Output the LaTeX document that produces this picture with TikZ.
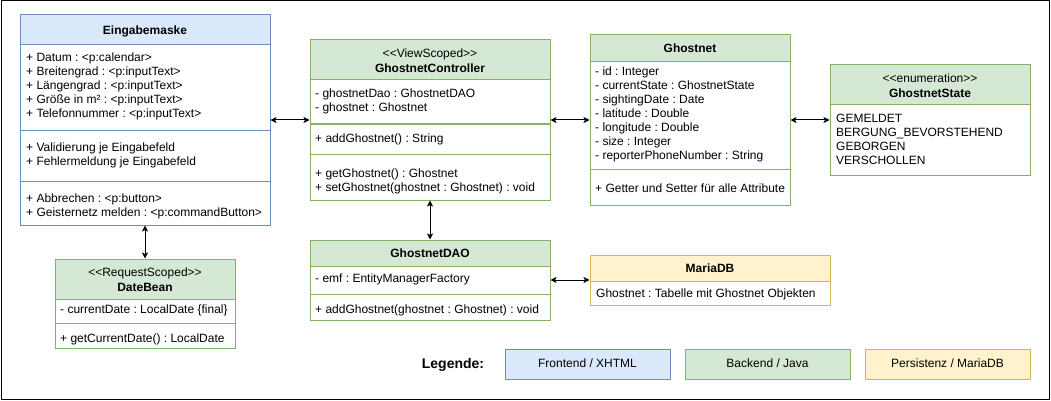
\documentclass[tikz,border=0pt]{standalone}
\usepackage{fontspec}
\setmainfont{Liberation Sans}[Ligatures=TeXOff]
\usetikzlibrary{arrows.meta}
\definecolor{blueF}{HTML}{DAE8FC}
\definecolor{blueD}{HTML}{6C8EBF}
\definecolor{greenF}{HTML}{D5E8D4}
\definecolor{greenD}{HTML}{82B366}
\definecolor{yelF}{HTML}{FFF2CC}
\definecolor{yelD}{HTML}{D6B656}
\frenchspacing
\begin{document}
\begin{tikzpicture}[x=1pt,y=-1pt,
  font=\fontsize{12}{14}\selectfont,
  conn/.style={{Stealth[length=6pt,width=6pt,inset=1.5pt]}-{Stealth[length=6pt,width=6pt,inset=1.5pt]}, line width=1pt, black},
  txt/.style={inner sep=0pt, anchor=base west},
  ttl/.style={inner sep=0pt, anchor=base, font=\fontsize{12}{14}\selectfont\bfseries},
  ster/.style={inner sep=0pt, anchor=base},
  box/.style={inner sep=0pt, line width=1pt},
  sepb/.style={blueD, line width=1pt},
  sepg/.style={greenD, line width=1pt},
  sepy/.style={yelD, line width=1pt},
  legbox/.style={inner sep=0pt, line width=1pt, minimum width=165pt, minimum height=30pt, text height=8.5pt, text depth=2.5pt},
]
\useasboundingbox (0,0) rectangle (1051,401);
\fill[white] (0,0) rectangle (1051,401);
\draw[line width=1pt] (1,1) rectangle (1049,399);

% ---------- Eingabemaske ----------
\fill[blueF] (20,15) rectangle (270,45);
\node[box, draw=blueD, minimum width=250pt, minimum height=210pt] (eing) at (145,120) {};
\draw[sepb] (20,45) -- (270,45);
\draw[sepb] (20,130) -- (270,130);
\draw[sepb] (20,181) -- (270,181);
\node[ttl] (eingT) at (145,34.5) {Eingabemaske};
\node[txt] (e1) at (26,61.5) {+ Datum : <p:calendar>};
\node[txt] (e2) at (26,75.5) {+ Breitengrad : <p:inputText>};
\node[txt] (e3) at (26,89.5) {+ Längengrad : <p:inputText>};
\node[txt] (e4) at (26,103.5) {+ Größe in m² : <p:inputText>};
\node[txt] (e5) at (26,117.5) {+ Telefonnummer : <p:inputText>};
\node[txt] (e6) at (26,151.5) {+ Validierung je Eingabefeld};
\node[txt] (e7) at (26,165.5) {+ Fehlermeldung je Eingabefeld};
\node[txt] (e8) at (26,202.5) {+ Abbrechen : <p:button>};
\node[txt] (e9) at (26,216.5) {+ Geisternetz melden : <p:commandButton>};

% ---------- GhostnetController ----------
\fill[greenF] (310,40) rectangle (550,80);
\node[box, draw=greenD, minimum width=240pt, minimum height=160pt] (ctrl) at (430,120) {};
\draw[sepg] (310,80) -- (550,80);
\draw[sepg] (310,124) -- (550,124);
\draw[sepg] (310,154) -- (550,154);
\node[ster] (ctrlS) at (430,57.5) {<<ViewScoped>>};
\node[ttl] (ctrlT) at (430,72.5) {GhostnetController};
\node[txt] (c1) at (315,97.5) {- ghostnetDao : GhostnetDAO};
\node[txt] (c2) at (315,111.5) {- ghostnet : Ghostnet};
\node[txt] (c3) at (315,142.5) {+ addGhostnet() : String};
\node[txt] (c4) at (315,177.5) {+ getGhostnet() : Ghostnet};
\node[txt] (c5) at (315,191.5) {+ setGhostnet(ghostnet : Ghostnet) : void};

% ---------- Ghostnet ----------
\fill[greenF] (590,35) rectangle (790,62);
\node[box, draw=greenD, minimum width=200pt, minimum height=170pt] (gn) at (690,120) {};
\draw[sepg] (590,62) -- (790,62);
\draw[sepg] (590,169) -- (790,169);
\node[ttl] (gnT) at (690,52.5) {Ghostnet};
\node[txt] (g1) at (595,75.5) {- id : Integer};
\node[txt] (g2) at (595,89.5) {- currentState : GhostnetState};
\node[txt] (g3) at (595,103.5) {- sightingDate : Date};
\node[txt] (g4) at (595,117.5) {- latitude : Double};
\node[txt] (g5) at (595,131.5) {- longitude : Double};
\node[txt] (g6) at (595,145.5) {- size : Integer};
\node[txt] (g7) at (595,159.5) {- reporterPhoneNumber : String};
\node[txt] (g8) at (595,192.5) {+ Getter und Setter für alle Attribute};

% ---------- GhostnetState ----------
\fill[greenF] (830,65) rectangle (1030,105);
\node[box, draw=greenD, minimum width=200pt, minimum height=110pt] (gs) at (930,120) {};
\draw[sepg] (830,105) -- (1030,105);
\node[ster] (gsS) at (930,82.5) {<<enumeration>>};
\node[ttl] (gsT) at (930,97.5) {GhostnetState};
\node[txt] (s1) at (836,122.5) {GEMELDET};
\node[txt] (s2) at (836,136.5) {BERGUNG\_BEVORSTEHEND};
\node[txt] (s3) at (836,150.5) {GEBORGEN};
\node[txt] (s4) at (836,164.5) {VERSCHOLLEN};

% ---------- DateBean ----------
\fill[greenF] (55,259) rectangle (235,299);
\node[box, draw=greenD, minimum width=180pt, minimum height=89pt] (db) at (145,303.5) {};
\draw[sepg] (55,299) -- (235,299);
\draw[sepg] (55,323) -- (235,323);
\node[ster] (dbS) at (145,276.5) {<<RequestScoped>>};
\node[ttl] (dbT) at (145,291.5) {DateBean};
\node[txt] (d1) at (60,313.5) {- currentDate : LocalDate \{final\}};
\node[txt] (d2) at (60,342.5) {+ getCurrentDate() : LocalDate};

% ---------- GhostnetDAO ----------
\fill[greenF] (310,240) rectangle (550,266);
\node[box, draw=greenD, minimum width=240pt, minimum height=80pt] (dao) at (430,280) {};
\draw[sepg] (310,266) -- (550,266);
\draw[sepg] (310,294) -- (550,294);
\node[ttl] (daoT) at (430,257.5) {GhostnetDAO};
\node[txt] (a1) at (315,282.5) {- emf : EntityManagerFactory};
\node[txt] (a2) at (315,313.5) {+ addGhostnet(ghostnet : Ghostnet) : void};

% ---------- MariaDB ----------
\fill[yelF] (590,255) rectangle (830,281);
\node[box, draw=yelD, minimum width=240pt, minimum height=50pt] (mdb) at (710,280) {};
\draw[sepy] (590,281) -- (830,281);
\node[ttl] (mdbT) at (710,272.5) {MariaDB};
\node[txt] (m1) at (596,297.5) {Ghostnet : Tabelle mit Ghostnet Objekten};

% ---------- connectors ----------
\draw[conn] (eing.east) -- (ctrl.west);
\draw[conn] (ctrl.east) -- (gn.west);
\draw[conn] (gn.east) -- (gs.west);
\draw[conn] (ctrl.south) -- (dao.north);
\draw[conn] (eing.south) -- (db.north);
\draw[conn] (dao.east) -- (mdb.west);

% ---------- legend ----------
\node[inner sep=0pt, anchor=base, font=\fontsize{14}{16}\selectfont\bfseries] (leg) at (453,368.5) {Legende:};
\node[legbox, fill=blueF, draw=blueD] (lf) at (587.5,364) {Frontend / XHTML};
\node[legbox, fill=greenF, draw=greenD] (lb) at (767.5,364) {Backend / Java};
\node[legbox, fill=yelF, draw=yelD] (lp) at (947.5,364) {Persistenz / MariaDB};
\end{tikzpicture}
\end{document}
